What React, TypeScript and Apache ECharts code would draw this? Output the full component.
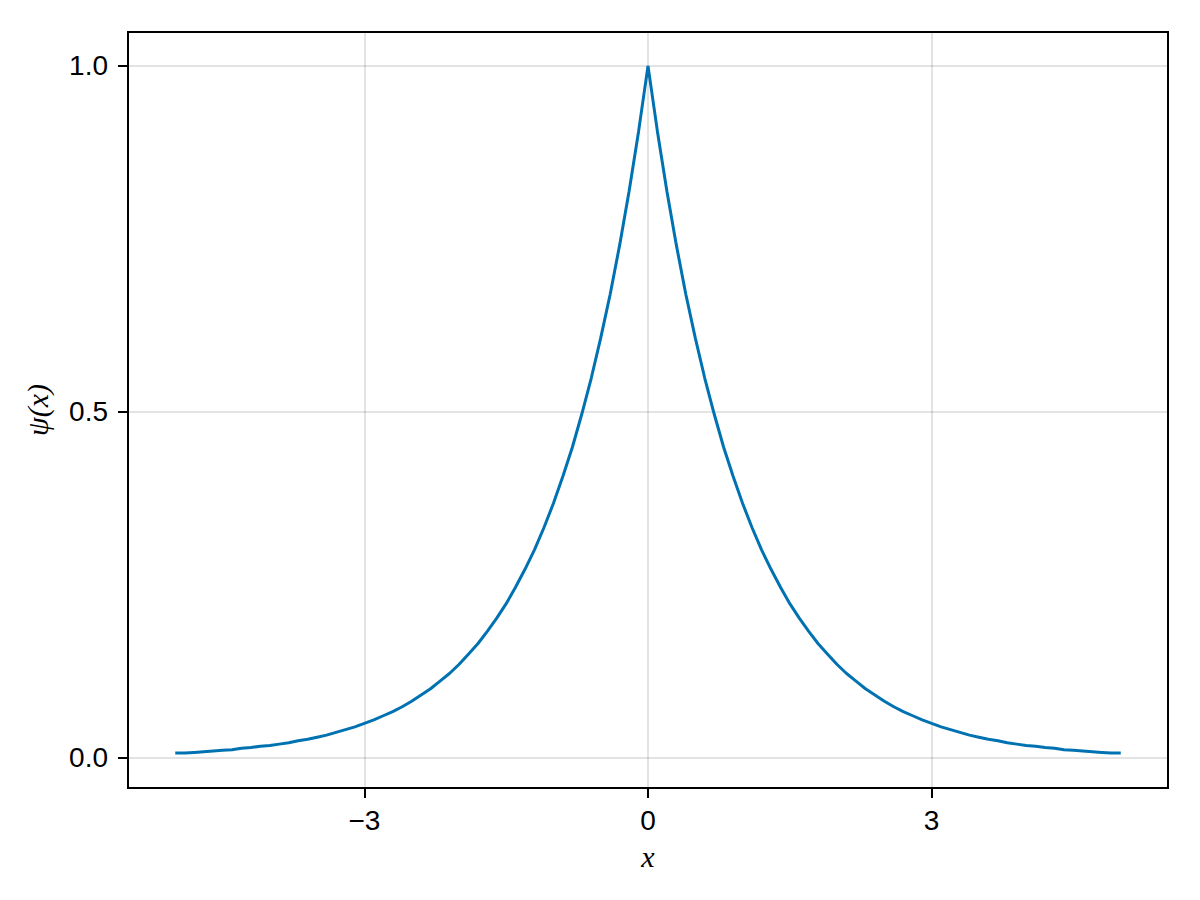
import React, { useEffect, useRef } from "react";
import * as echarts from "echarts";

const xValues = [
  -5.0, -4.9, -4.8, -4.7, -4.6, -4.5, -4.4, -4.3, -4.2, -4.1, -4.0, -3.9, -3.8,
  -3.7, -3.6, -3.5, -3.4, -3.3, -3.2, -3.1, -3.0, -2.9, -2.8, -2.7, -2.6, -2.5,
  -2.4, -2.3, -2.2, -2.1, -2.0, -1.9, -1.8, -1.7, -1.6, -1.5, -1.4, -1.3, -1.2,
  -1.1, -1.0, -0.9, -0.8, -0.7, -0.6, -0.5, -0.4, -0.3, -0.2, -0.1, 0.0, 0.1,
  0.2, 0.3, 0.4, 0.5, 0.6, 0.7, 0.8, 0.9, 1.0, 1.1, 1.2, 1.3, 1.4, 1.5, 1.6,
  1.7, 1.8, 1.9, 2.0, 2.1, 2.2, 2.3, 2.4, 2.5, 2.6, 2.7, 2.8, 2.9, 3.0, 3.1,
  3.2, 3.3, 3.4, 3.5, 3.6, 3.7, 3.8, 3.9, 4.0, 4.1, 4.2, 4.3, 4.4, 4.5, 4.6,
  4.7, 4.8, 4.9, 5.0,
];
const psiValues = [
  0.007, 0.007, 0.008, 0.009, 0.010, 0.011, 0.012, 0.014, 0.015, 0.017, 0.018,
  0.020, 0.022, 0.025, 0.027, 0.030, 0.033, 0.037, 0.041, 0.045, 0.050, 0.055,
  0.061, 0.067, 0.074, 0.082, 0.091, 0.100, 0.111, 0.122, 0.135, 0.150, 0.165,
  0.183, 0.202, 0.223, 0.247, 0.273, 0.301, 0.333, 0.368, 0.407, 0.449, 0.497,
  0.549, 0.607, 0.670, 0.741, 0.819, 0.905, 1.000, 0.905, 0.819, 0.741, 0.670,
  0.607, 0.549, 0.497, 0.449, 0.407, 0.368, 0.333, 0.301, 0.273, 0.247, 0.223,
  0.202, 0.183, 0.165, 0.150, 0.135, 0.122, 0.111, 0.100, 0.091, 0.082, 0.074,
  0.067, 0.061, 0.055, 0.050, 0.045, 0.041, 0.037, 0.033, 0.030, 0.027, 0.025,
  0.022, 0.020, 0.018, 0.017, 0.015, 0.014, 0.012, 0.011, 0.010, 0.009, 0.008,
  0.007, 0.007,
];
const xTicks = [-3, 0, 3];
const yTicks = [0, 0.5, 1.0];

export default function App() {
  const ref = useRef<HTMLDivElement>(null);
  useEffect(() => {
    if (!ref.current) return;
    const chart = echarts.init(ref.current, null, { renderer: "svg" });
    const tickFont = "'Liberation Sans', Arial, sans-serif";
    const mathFont = "'Liberation Serif', 'DejaVu Serif', serif";
    chart.setOption({
      animation: false,
      backgroundColor: "#ffffff",
      grid: {
        left: 128,
        right: 32,
        top: 32,
        bottom: 112,
        show: true,
        borderColor: "#000000",
        borderWidth: 2,
        backgroundColor: "transparent",
      },
      xAxis: {
        type: "value",
        min: -5.5,
        max: 5.5,
        name: "x",
        nameLocation: "middle",
        nameGap: 53,
        nameTextStyle: {
          fontFamily: mathFont,
          fontStyle: "italic",
          fontSize: 30,
          color: "#000",
        },
        axisLine: { show: true, onZero: false, lineStyle: { color: "#000", width: 2 } },
        axisTick: {
          show: true,
          inside: false,
          length: 10,
          customValues: xTicks,
          lineStyle: { color: "#000", width: 2 },
        },
        axisLabel: {
          customValues: xTicks,
          margin: 18,
          fontFamily: tickFont,
          fontSize: 28,
          color: "#000",
          formatter: (v: number) => (v < 0 ? "\u2212" + Math.abs(v) : String(v)),
        },
        splitLine: {
          show: true,
          lineStyle: { color: "rgba(0,0,0,0.11)", width: 2 },
        },
      },
      yAxis: {
        type: "value",
        min: -0.0434,
        max: 1.049,
        name: "\u03c8(x)",
        nameLocation: "middle",
        nameRotate: 90,
        nameGap: 76,
        nameTextStyle: {
          fontFamily: mathFont,
          fontStyle: "italic",
          fontSize: 30,
          color: "#000",
        },
        axisLine: { show: true, onZero: false, lineStyle: { color: "#000", width: 2 } },
        axisTick: {
          show: true,
          inside: false,
          length: 10,
          customValues: yTicks,
          lineStyle: { color: "#000", width: 2 },
        },
        axisLabel: {
          customValues: yTicks,
          margin: 20,
          fontFamily: tickFont,
          fontSize: 28,
          color: "#000",
          formatter: (v: number) => v.toFixed(1),
        },
        splitLine: {
          show: true,
          lineStyle: { color: "rgba(0,0,0,0.11)", width: 2 },
        },
      },
      series: [
        {
          type: "line",
          data: xValues.map((x, i) => [x, psiValues[i]]),
          showSymbol: false,
          symbol: "none",
          lineStyle: { color: "#0072B2", width: 3 },
          itemStyle: { color: "#0072B2" },
        },
      ],
    });
    return () => chart.dispose();
  }, []);
  return (
    <div
      ref={ref}
      style={{ position: "fixed", left: 0, top: 0, width: 1200, height: 900 }}
    />
  );
}
